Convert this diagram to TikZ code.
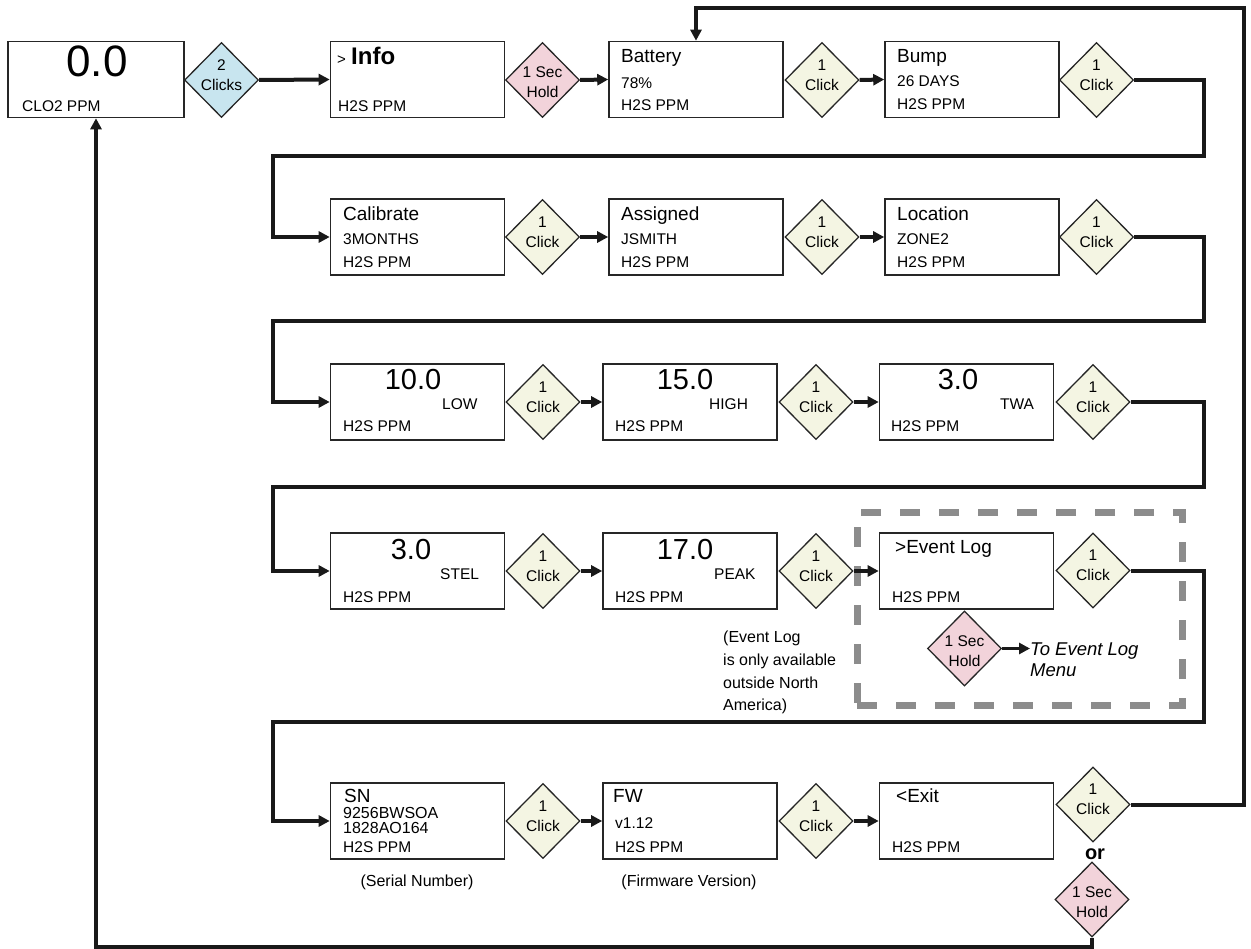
\documentclass[tikz,border=0pt]{standalone}
\usepackage{fontspec}
\setmainfont{Liberation Sans}
\usetikzlibrary{shapes.geometric,arrows.meta}
\definecolor{clickc}{HTML}{F4F5E3}
\definecolor{holdc}{HTML}{F2D3DA}
\definecolor{twoc}{HTML}{C8E5EF}
\definecolor{dashc}{HTML}{8C8C8C}
\newcommand\fz[2]{\fontsize{#1}{#2}\selectfont}
\begin{document}
\begin{tikzpicture}[x=1pt,y=-1pt,
 box/.style={draw=black!85,line width=1.6pt,minimum width=174pt,minimum height=76pt,inner sep=0pt,fill=white},
 dia/.style={diamond,draw=black!85,line width=1.3pt,minimum width=74pt,minimum height=75pt,inner sep=0pt},
 clk/.style={dia,fill=clickc}, hld/.style={dia,fill=holdc}, two/.style={dia,fill=twoc},
 dt/.style={align=center,inner sep=0pt,font=\fz{15.5}{20}},
 clkt/.style={dt,yshift=5pt}, hldt/.style={dt,yshift=-2.5pt},
 tl/.style={anchor=base west,inner sep=0pt,font=\fz{19}{21}},
 tm/.style={anchor=base west,inner sep=0pt,font=\fz{15.5}{18}},
 big/.style={anchor=base,inner sep=0pt,font=\fz{29}{32}},
 note/.style={anchor=base west,inner sep=0pt,font=\fz{16}{18}},
 conn/.style={line width=4pt,draw=black!90},
 arr/.style={conn,-{Triangle[length=11pt,width=11pt]}},
]
\useasboundingbox (0,0) rectangle (1251,949);
\fill[white] (0,0) rectangle (1251,949);

% dashed event-log frame
\node[draw=dashc,line width=7pt,dash pattern=on 20pt off 19pt,minimum width=325pt,minimum height=193pt,inner sep=0pt] (evbox) at (1019.5,608.5) {};

% Row 1
\node[box,minimum width=176pt] (b0) at (96,79.5) {};
\node[two] (d0) at (221.5,80) {};
\node[box] (b1) at (417.5,79.5) {};
\node[hld] (d1) at (542.5,80) {};
\node[box] (b2) at (696,79.5) {};
\node[clk] (d2) at (822,80) {};
\node[box] (b3) at (972,79.5) {};
\node[clk] (d3) at (1096.5,80) {};
% Row 2
\node[box] (b4) at (417.5,237) {};
\node[clk] (d4) at (542.5,237) {};
\node[box] (b5) at (696,237) {};
\node[clk] (d5) at (822,237) {};
\node[box] (b6) at (972,237) {};
\node[clk] (d6) at (1096.5,237) {};
% Row 3
\node[box] (b7) at (417.5,402) {};
\node[clk] (d7) at (543,402) {};
\node[box] (b8) at (690,402) {};
\node[clk] (d8) at (816,402) {};
\node[box] (b9) at (966.5,402) {};
\node[clk] (d9) at (1093,402) {};
% Row 4
\node[box] (b10) at (417.5,571) {};
\node[clk] (d10) at (543,571) {};
\node[box] (b11) at (690,571) {};
\node[clk] (d11) at (816,571) {};
\node[box] (b12) at (966.5,571) {};
\node[clk] (d12) at (1093,570.5) {};
\node[hld] (d17) at (964.5,648.5) {};
% Row 5
\node[box] (b13) at (417.5,821) {};
\node[clk] (d13) at (543,821) {};
\node[box] (b14) at (690,821) {};
\node[clk] (d14) at (816,821) {};
\node[box] (b15) at (966.5,821) {};
\node[clk] (d15) at (1093,804.5) {};
\node[hld] (d16) at (1092,899.5) {};

% diamond texts
\node[dt,yshift=5pt] (x0) at (d0) {2\\Clicks};
\node[hldt] (x1) at (d1) {1 Sec\\Hold};
\node[clkt] (x2) at (d2) {1\\Click};
\node[clkt] (x3) at (d3) {1\\Click};
\node[clkt] (x4) at (d4) {1\\Click};
\node[clkt] (x5) at (d5) {1\\Click};
\node[clkt] (x6) at (d6) {1\\Click};
\node[clkt] (x7) at (d7) {1\\Click};
\node[clkt] (x8) at (d8) {1\\Click};
\node[clkt] (x9) at (d9) {1\\Click};
\node[clkt] (x10) at (d10) {1\\Click};
\node[clkt] (x11) at (d11) {1\\Click};
\node[clkt] (x12) at (d12) {1\\Click};
\node[clkt] (x13) at (d13) {1\\Click};
\node[clkt] (x14) at (d14) {1\\Click};
\node[clkt] (x15) at (d15) {1\\Click};
\node[hldt] (x16) at (d16) {1 Sec\\Hold};
\node[hldt] (x17) at (d17) {1 Sec\\Hold};

% box texts
\node[anchor=base,inner sep=0pt,font=\fz{44}{48}] (t0a) at (97,77) {0.0};
\node[tm] (t0b) at (22,112) {CLO2 PPM};
\node[tl] (t1a) at (337,65) {{\fz{15}{18}>} {\bfseries\fz{24}{27}Info}};
\node[tm] (t1b) at (338,112) {H2S PPM};
\node[tl] (t2a) at (621,63) {Battery};
\node[tm] (t2b) at (621,89) {78\%};
\node[tm] (t2c) at (621,111) {H2S PPM};
\node[tl] (t3a) at (897,63) {Bump};
\node[tm] (t3b) at (897,87) {26 DAYS};
\node[tm] (t3c) at (897,110) {H2S PPM};
\node[tl] (t4a) at (343,221) {Calibrate};
\node[tm] (t4b) at (343,245) {3MONTHS};
\node[tm] (t4c) at (343,268) {H2S PPM};
\node[tl] (t5a) at (621,221) {Assigned};
\node[tm] (t5b) at (621,245) {JSMITH};
\node[tm] (t5c) at (621,268) {H2S PPM};
\node[tl] (t6a) at (897,221) {Location};
\node[tm] (t6b) at (897,245) {ZONE2};
\node[tm] (t6c) at (897,268) {H2S PPM};
\node[big] (t7a) at (413,390) {10.0};
\node[tm] (t7b) at (442,410) {LOW};
\node[tm] (t7c) at (343,432) {H2S PPM};
\node[big] (t8a) at (685,390) {15.0};
\node[tm] (t8b) at (709,410) {HIGH};
\node[tm] (t8c) at (615,432) {H2S PPM};
\node[big] (t9a) at (958,390) {3.0};
\node[tm] (t9b) at (1000,410) {TWA};
\node[tm] (t9c) at (891,432) {H2S PPM};
\node[big] (t10a) at (411,559) {3.0};
\node[tm] (t10b) at (440,579) {STEL};
\node[tm] (t10c) at (343,602) {H2S PPM};
\node[big] (t11a) at (685,559) {17.0};
\node[tm] (t11b) at (714,579) {PEAK};
\node[tm] (t11c) at (615,602) {H2S PPM};
\node[tl] (t12a) at (895,553) {>Event Log};
\node[tm] (t12b) at (892,602) {H2S PPM};
\node[tl] (t13a) at (344,802) {SN};
\node[tm,font=\fz{16}{18}] (t13b) at (343,818) {9256BWSOA};
\node[tm,font=\fz{16}{18}] (t13c) at (343,833) {1828AO164};
\node[tm] (t13d) at (343,852) {H2S PPM};
\node[tl] (t14a) at (613,802) {FW};
\node[tm] (t14b) at (615,828) {v1.12};
\node[tm] (t14c) at (615,852) {H2S PPM};
\node[tl] (t15a) at (896,802) {<Exit};
\node[tm] (t15b) at (892,852) {H2S PPM};

% notes
\node[anchor=base,inner sep=0pt,font=\fz{16}{18}] (n1) at (417,886) {(Serial Number)};
\node[anchor=base,inner sep=0pt,font=\fz{16}{18}] (n2) at (689,886) {(Firmware Version)};
\node[note] (n3) at (723,642) {(Event Log};
\node[note] (n4) at (723,665) {is only available};
\node[note] (n5) at (723,688) {outside North};
\node[note] (n6) at (723,710) {America)};
\node[anchor=base west,inner sep=0pt,font=\itshape\fz{18.5}{22}] (evt1) at (1030,655) {To Event Log};
\node[anchor=base west,inner sep=0pt,font=\itshape\fz{18.5}{22}] (evt2) at (1030,676) {Menu};
\node[anchor=base,inner sep=0pt,font=\bfseries\fz{20}{22}] (or) at (1095,859) {or};

% connectors
\coordinate (bl) at (96,947);
\draw[arr] (d0.east) -- (b1.west);
\draw[arr] (d1.east) -- (b2.west);
\draw[arr] (d2.east) -- (b3.west);
\draw[arr] (d3.east) -| (1204,156) -- (273,156) |- (b4.west);
\draw[arr] (d4.east) -- (b5.west);
\draw[arr] (d5.east) -- (b6.west);
\draw[arr] (d6.east) -| (1204,321) -- (273,321) |- (b7.west);
\draw[arr] (d7.east) -- (b8.west);
\draw[arr] (d8.east) -- (b9.west);
\draw[arr] (d9.east) -| (1204,487) -- (273,487) |- (b10.west);
\draw[arr] (d10.east) -- (b11.west);
\draw[arr] (d11.east) -- (b12.west);
\draw[arr] (d12.east) -| (1204,722) -- (273,722) |- (b13.west);
\draw[arr] (d13.east) -- (b14.west);
\draw[arr] (d14.east) -- (b15.west);
\draw[arr] (d15.east) -| (1244,8) -| (b2.north);
\draw[arr] (d16.south) |- (bl) -- (b0.south);
\draw[arr,line width=3.5pt] (d17.east) -- (d17.east -| evt1.west);
\end{tikzpicture}
\end{document}
